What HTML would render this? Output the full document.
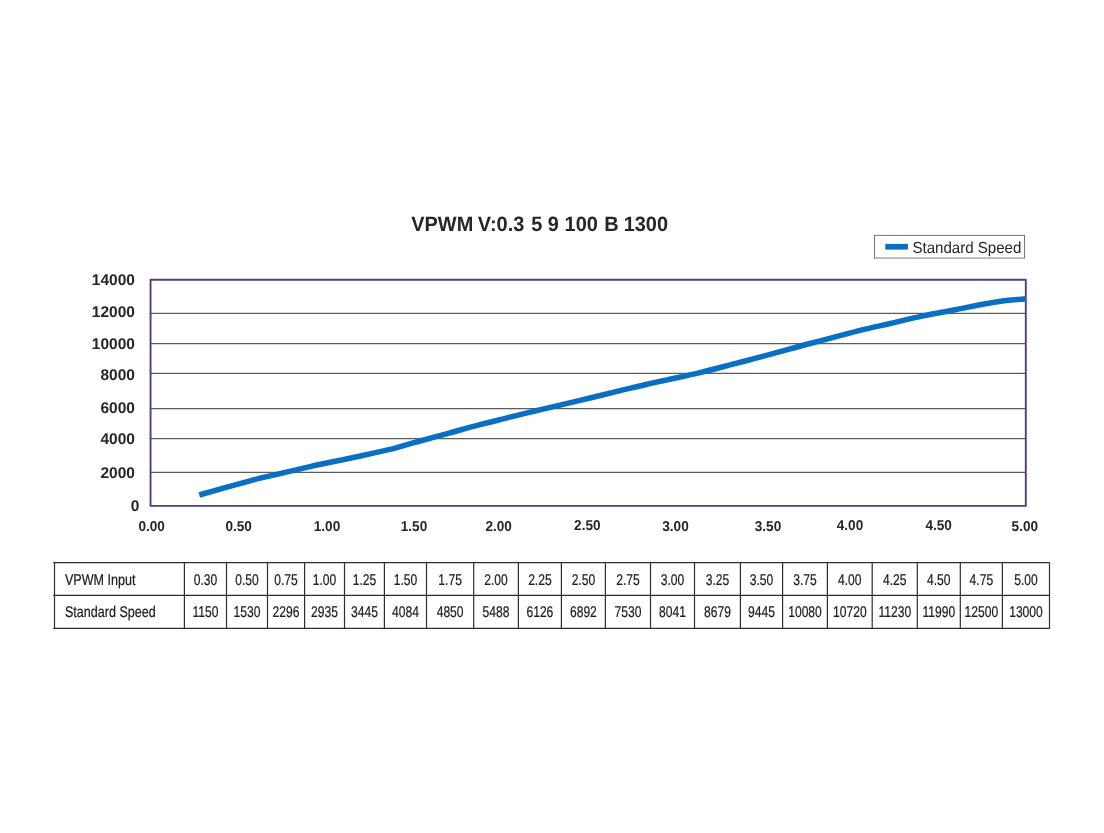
<!DOCTYPE html>
<html lang="en">
<head>
<meta charset="utf-8">
<title>VPWM V:0.3 5 9 100 B 1300</title>
<style>
html,body{margin:0;padding:0;background:#fff;}
body{width:1104px;height:833px;overflow:hidden;}
svg{display:block;}
text{font-family:"Liberation Sans",Arial,Helvetica,sans-serif;text-rendering:geometricPrecision;}
.b{font-weight:bold;}
</style>
</head>
<body>
<svg width="1104" height="833" viewBox="0 0 1104 833">
<rect x="0" y="0" width="1104" height="833" fill="#ffffff"/>
<text class="b" transform="translate(539.65,230.9) scale(0.958,1)" font-size="20.8" text-anchor="middle" fill="#262626">VPWM<tspan dx="-1.05"> V:0.3</tspan><tspan dx="1.35"> 5</tspan><tspan dx="0.1"> 9</tspan><tspan dx="0.1"> 100</tspan><tspan dx="0.8"> B</tspan><tspan dx="-0.4"> 1300</tspan></text>
<rect x="874.5" y="235.4" width="150" height="22.7" fill="#fff" stroke="#757575" stroke-width="1"/>
<line x1="874.5" y1="258.5" x2="1025" y2="258.5" stroke="#b5b5b5" stroke-width="1"/>
<rect x="885.3" y="243.9" width="22.6" height="5.7" fill="#0a6ec3"/>
<text transform="translate(912.4,252.7) scale(0.942,1)" font-size="16" fill="#262626">Standard Speed</text>
<line x1="150.55" y1="313.3" x2="1025.8" y2="313.3" stroke="#5c5c5c" stroke-width="1.3"/>
<line x1="150.55" y1="343.7" x2="1025.8" y2="343.7" stroke="#5c5c5c" stroke-width="1.3"/>
<line x1="150.55" y1="373.4" x2="1025.8" y2="373.4" stroke="#5c5c5c" stroke-width="1.3"/>
<line x1="150.55" y1="408.7" x2="1025.8" y2="408.7" stroke="#5c5c5c" stroke-width="1.3"/>
<line x1="150.55" y1="438.6" x2="1025.8" y2="438.6" stroke="#5c5c5c" stroke-width="1.3"/>
<line x1="150.55" y1="472.4" x2="1025.8" y2="472.4" stroke="#5c5c5c" stroke-width="1.3"/>
<rect x="150.55" y="279.7" width="875.25" height="226.2" fill="none" stroke="#573c75" stroke-width="1.9" stroke-linejoin="round"/>
<path d="M199.3,495.0 C207.8,492.6 236.6,484.4 250,480.8 C263.4,477.2 270.0,476.1 280,473.7 C290.0,471.3 299.2,469.0 310,466.6 C320.8,464.2 335.0,461.3 345,459.2 C355.0,457.1 361.8,455.7 370,453.9 C378.2,452.1 390.2,449.3 394.3,448.4 L394.3,448.4 C398.6,447.2 410.7,443.6 420,441.0 C429.3,438.4 440.0,435.5 450,432.8 C460.0,430.1 470.0,427.2 480,424.6 C490.0,422.0 500.8,419.5 510,417.2 C519.2,414.9 526.7,413.0 535,411.0 C543.3,409.0 550.8,407.3 560,405.1 C569.2,402.9 580.0,400.4 590,398.0 C600.0,395.6 610.8,392.9 620,390.7 C629.2,388.5 636.7,386.6 645,384.7 C653.3,382.8 660.8,381.2 670,379.2 C679.2,377.2 690.0,375.0 700,372.6 C710.0,370.2 720.8,367.3 730,364.9 C739.2,362.5 746.7,360.6 755,358.4 C763.3,356.2 770.8,354.1 780,351.6 C789.2,349.1 800.0,346.1 810,343.5 C820.0,340.9 830.8,338.1 840,335.7 C849.2,333.3 856.7,331.2 865,329.2 C873.3,327.2 880.8,325.6 890,323.5 C899.2,321.4 910.0,318.7 920,316.6 C930.0,314.5 940.0,312.7 950,310.7 C960.0,308.7 973.3,306.1 980,304.8 C986.7,303.5 985.6,303.7 990,303.0 C994.4,302.3 1000.3,301.2 1006.3,300.5 C1012.3,299.8 1022.7,299.1 1026.0,298.8" fill="none" stroke="#0a6ec3" stroke-width="5.5" stroke-linejoin="round"/>
<text class="b" transform="translate(134.9,284.5) scale(1.0,1)" font-size="15.5" text-anchor="end" fill="#262626">14000</text>
<text class="b" transform="translate(134.9,317.0) scale(1.0,1)" font-size="15.5" text-anchor="end" fill="#262626">12000</text>
<text class="b" transform="translate(134.9,348.5) scale(1.0,1)" font-size="15.5" text-anchor="end" fill="#262626">10000</text>
<text class="b" transform="translate(134.9,380.2) scale(1.0,1)" font-size="15.5" text-anchor="end" fill="#262626">8000</text>
<text class="b" transform="translate(134.9,413.4) scale(1.0,1)" font-size="15.5" text-anchor="end" fill="#262626">6000</text>
<text class="b" transform="translate(134.9,443.7) scale(1.0,1)" font-size="15.5" text-anchor="end" fill="#262626">4000</text>
<text class="b" transform="translate(134.9,478.1) scale(1.0,1)" font-size="15.5" text-anchor="end" fill="#262626">2000</text>
<text class="b" transform="translate(139.4,511.2) scale(1.0,1)" font-size="15.5" text-anchor="end" fill="#262626">0</text>
<text class="b" transform="translate(151.7,531.1) scale(0.95,1)" font-size="14.3" text-anchor="middle" fill="#262626">0.00</text>
<text class="b" transform="translate(238.7,531.1) scale(0.95,1)" font-size="14.3" text-anchor="middle" fill="#262626">0.50</text>
<text class="b" transform="translate(327.0,531.1) scale(0.95,1)" font-size="14.3" text-anchor="middle" fill="#262626">1.00</text>
<text class="b" transform="translate(414.0,531.1) scale(0.95,1)" font-size="14.3" text-anchor="middle" fill="#262626">1.50</text>
<text class="b" transform="translate(498.6,531.1) scale(0.95,1)" font-size="14.3" text-anchor="middle" fill="#262626">2.00</text>
<text class="b" transform="translate(587.3,530.1) scale(0.95,1)" font-size="14.3" text-anchor="middle" fill="#262626">2.50</text>
<text class="b" transform="translate(675.5,531.1) scale(0.95,1)" font-size="14.3" text-anchor="middle" fill="#262626">3.00</text>
<text class="b" transform="translate(768.0,531.1) scale(0.95,1)" font-size="14.3" text-anchor="middle" fill="#262626">3.50</text>
<text class="b" transform="translate(850.0,529.8) scale(0.95,1)" font-size="14.3" text-anchor="middle" fill="#262626">4.00</text>
<text class="b" transform="translate(938.7,529.8) scale(0.95,1)" font-size="14.3" text-anchor="middle" fill="#262626">4.50</text>
<text class="b" transform="translate(1024.8,530.6) scale(0.95,1)" font-size="14.3" text-anchor="middle" fill="#262626">5.00</text>
<line x1="54.5" y1="562.6" x2="54.5" y2="628.4" stroke="#2e2e2e" stroke-width="1.2"/>
<line x1="184.4" y1="562.6" x2="184.4" y2="628.4" stroke="#2e2e2e" stroke-width="1.2"/>
<line x1="226.5" y1="562.6" x2="226.5" y2="628.4" stroke="#2e2e2e" stroke-width="1.2"/>
<line x1="267.5" y1="562.6" x2="267.5" y2="628.4" stroke="#2e2e2e" stroke-width="1.2"/>
<line x1="304.6" y1="562.6" x2="304.6" y2="628.4" stroke="#2e2e2e" stroke-width="1.2"/>
<line x1="344.5" y1="562.6" x2="344.5" y2="628.4" stroke="#2e2e2e" stroke-width="1.2"/>
<line x1="384.4" y1="562.6" x2="384.4" y2="628.4" stroke="#2e2e2e" stroke-width="1.2"/>
<line x1="426.5" y1="562.6" x2="426.5" y2="628.4" stroke="#2e2e2e" stroke-width="1.2"/>
<line x1="473.7" y1="562.6" x2="473.7" y2="628.4" stroke="#2e2e2e" stroke-width="1.2"/>
<line x1="518.4" y1="562.6" x2="518.4" y2="628.4" stroke="#2e2e2e" stroke-width="1.2"/>
<line x1="561.4" y1="562.6" x2="561.4" y2="628.4" stroke="#2e2e2e" stroke-width="1.2"/>
<line x1="605.4" y1="562.6" x2="605.4" y2="628.4" stroke="#2e2e2e" stroke-width="1.2"/>
<line x1="650.5" y1="562.6" x2="650.5" y2="628.4" stroke="#2e2e2e" stroke-width="1.2"/>
<line x1="694.5" y1="562.6" x2="694.5" y2="628.4" stroke="#2e2e2e" stroke-width="1.2"/>
<line x1="740.4" y1="562.6" x2="740.4" y2="628.4" stroke="#2e2e2e" stroke-width="1.2"/>
<line x1="782.6" y1="562.6" x2="782.6" y2="628.4" stroke="#2e2e2e" stroke-width="1.2"/>
<line x1="827.4" y1="562.6" x2="827.4" y2="628.4" stroke="#2e2e2e" stroke-width="1.2"/>
<line x1="872.2" y1="562.6" x2="872.2" y2="628.4" stroke="#2e2e2e" stroke-width="1.2"/>
<line x1="917.3" y1="562.6" x2="917.3" y2="628.4" stroke="#2e2e2e" stroke-width="1.2"/>
<line x1="960.3" y1="562.6" x2="960.3" y2="628.4" stroke="#2e2e2e" stroke-width="1.2"/>
<line x1="1002.4" y1="562.6" x2="1002.4" y2="628.4" stroke="#2e2e2e" stroke-width="1.2"/>
<line x1="1049.5" y1="562.6" x2="1049.5" y2="628.4" stroke="#2e2e2e" stroke-width="1.2"/>
<line x1="53.3" y1="562.6" x2="1049.5" y2="562.6" stroke="#2e2e2e" stroke-width="1.2"/>
<line x1="53.3" y1="595.3" x2="1049.5" y2="595.3" stroke="#2e2e2e" stroke-width="1.2"/>
<line x1="53.3" y1="628.4" x2="1049.5" y2="628.4" stroke="#2e2e2e" stroke-width="1.2"/>
<text transform="translate(65,584.8) scale(0.809,1)" font-size="15.5" text-anchor="start" fill="#202020" stroke="#202020" stroke-width="0.22">VPWM Input</text>
<text transform="translate(65,616.6) scale(0.809,1)" font-size="15.5" text-anchor="start" fill="#202020" stroke="#202020" stroke-width="0.22">Standard Speed</text>
<text transform="translate(205.45,584.8) scale(0.779,1)" font-size="15.5" text-anchor="middle" fill="#202020" stroke="#202020" stroke-width="0.22">0.30</text>
<text transform="translate(205.45,616.6) scale(0.779,1)" font-size="15.5" text-anchor="middle" fill="#202020" stroke="#202020" stroke-width="0.22">1150</text>
<text transform="translate(247.0,584.8) scale(0.779,1)" font-size="15.5" text-anchor="middle" fill="#202020" stroke="#202020" stroke-width="0.22">0.50</text>
<text transform="translate(247.0,616.6) scale(0.779,1)" font-size="15.5" text-anchor="middle" fill="#202020" stroke="#202020" stroke-width="0.22">1530</text>
<text transform="translate(286.05,584.8) scale(0.779,1)" font-size="15.5" text-anchor="middle" fill="#202020" stroke="#202020" stroke-width="0.22">0.75</text>
<text transform="translate(286.05,616.6) scale(0.779,1)" font-size="15.5" text-anchor="middle" fill="#202020" stroke="#202020" stroke-width="0.22">2296</text>
<text transform="translate(324.55,584.8) scale(0.779,1)" font-size="15.5" text-anchor="middle" fill="#202020" stroke="#202020" stroke-width="0.22">1.00</text>
<text transform="translate(324.55,616.6) scale(0.779,1)" font-size="15.5" text-anchor="middle" fill="#202020" stroke="#202020" stroke-width="0.22">2935</text>
<text transform="translate(364.45,584.8) scale(0.779,1)" font-size="15.5" text-anchor="middle" fill="#202020" stroke="#202020" stroke-width="0.22">1.25</text>
<text transform="translate(364.45,616.6) scale(0.779,1)" font-size="15.5" text-anchor="middle" fill="#202020" stroke="#202020" stroke-width="0.22">3445</text>
<text transform="translate(405.45,584.8) scale(0.779,1)" font-size="15.5" text-anchor="middle" fill="#202020" stroke="#202020" stroke-width="0.22">1.50</text>
<text transform="translate(405.45,616.6) scale(0.779,1)" font-size="15.5" text-anchor="middle" fill="#202020" stroke="#202020" stroke-width="0.22">4084</text>
<text transform="translate(450.1,584.8) scale(0.779,1)" font-size="15.5" text-anchor="middle" fill="#202020" stroke="#202020" stroke-width="0.22">1.75</text>
<text transform="translate(450.1,616.6) scale(0.779,1)" font-size="15.5" text-anchor="middle" fill="#202020" stroke="#202020" stroke-width="0.22">4850</text>
<text transform="translate(496.04999999999995,584.8) scale(0.779,1)" font-size="15.5" text-anchor="middle" fill="#202020" stroke="#202020" stroke-width="0.22">2.00</text>
<text transform="translate(496.04999999999995,616.6) scale(0.779,1)" font-size="15.5" text-anchor="middle" fill="#202020" stroke="#202020" stroke-width="0.22">5488</text>
<text transform="translate(539.9,584.8) scale(0.779,1)" font-size="15.5" text-anchor="middle" fill="#202020" stroke="#202020" stroke-width="0.22">2.25</text>
<text transform="translate(539.9,616.6) scale(0.779,1)" font-size="15.5" text-anchor="middle" fill="#202020" stroke="#202020" stroke-width="0.22">6126</text>
<text transform="translate(583.4,584.8) scale(0.779,1)" font-size="15.5" text-anchor="middle" fill="#202020" stroke="#202020" stroke-width="0.22">2.50</text>
<text transform="translate(583.4,616.6) scale(0.779,1)" font-size="15.5" text-anchor="middle" fill="#202020" stroke="#202020" stroke-width="0.22">6892</text>
<text transform="translate(627.95,584.8) scale(0.779,1)" font-size="15.5" text-anchor="middle" fill="#202020" stroke="#202020" stroke-width="0.22">2.75</text>
<text transform="translate(627.95,616.6) scale(0.779,1)" font-size="15.5" text-anchor="middle" fill="#202020" stroke="#202020" stroke-width="0.22">7530</text>
<text transform="translate(672.5,584.8) scale(0.779,1)" font-size="15.5" text-anchor="middle" fill="#202020" stroke="#202020" stroke-width="0.22">3.00</text>
<text transform="translate(672.5,616.6) scale(0.779,1)" font-size="15.5" text-anchor="middle" fill="#202020" stroke="#202020" stroke-width="0.22">8041</text>
<text transform="translate(717.45,584.8) scale(0.779,1)" font-size="15.5" text-anchor="middle" fill="#202020" stroke="#202020" stroke-width="0.22">3.25</text>
<text transform="translate(717.45,616.6) scale(0.779,1)" font-size="15.5" text-anchor="middle" fill="#202020" stroke="#202020" stroke-width="0.22">8679</text>
<text transform="translate(761.5,584.8) scale(0.779,1)" font-size="15.5" text-anchor="middle" fill="#202020" stroke="#202020" stroke-width="0.22">3.50</text>
<text transform="translate(761.5,616.6) scale(0.779,1)" font-size="15.5" text-anchor="middle" fill="#202020" stroke="#202020" stroke-width="0.22">9445</text>
<text transform="translate(805.0,584.8) scale(0.779,1)" font-size="15.5" text-anchor="middle" fill="#202020" stroke="#202020" stroke-width="0.22">3.75</text>
<text transform="translate(805.0,616.6) scale(0.779,1)" font-size="15.5" text-anchor="middle" fill="#202020" stroke="#202020" stroke-width="0.22">10080</text>
<text transform="translate(849.8,584.8) scale(0.779,1)" font-size="15.5" text-anchor="middle" fill="#202020" stroke="#202020" stroke-width="0.22">4.00</text>
<text transform="translate(849.8,616.6) scale(0.779,1)" font-size="15.5" text-anchor="middle" fill="#202020" stroke="#202020" stroke-width="0.22">10720</text>
<text transform="translate(894.75,584.8) scale(0.779,1)" font-size="15.5" text-anchor="middle" fill="#202020" stroke="#202020" stroke-width="0.22">4.25</text>
<text transform="translate(894.75,616.6) scale(0.779,1)" font-size="15.5" text-anchor="middle" fill="#202020" stroke="#202020" stroke-width="0.22">11230</text>
<text transform="translate(938.8,584.8) scale(0.779,1)" font-size="15.5" text-anchor="middle" fill="#202020" stroke="#202020" stroke-width="0.22">4.50</text>
<text transform="translate(938.8,616.6) scale(0.779,1)" font-size="15.5" text-anchor="middle" fill="#202020" stroke="#202020" stroke-width="0.22">11990</text>
<text transform="translate(981.3499999999999,584.8) scale(0.779,1)" font-size="15.5" text-anchor="middle" fill="#202020" stroke="#202020" stroke-width="0.22">4.75</text>
<text transform="translate(981.3499999999999,616.6) scale(0.779,1)" font-size="15.5" text-anchor="middle" fill="#202020" stroke="#202020" stroke-width="0.22">12500</text>
<text transform="translate(1025.95,584.8) scale(0.779,1)" font-size="15.5" text-anchor="middle" fill="#202020" stroke="#202020" stroke-width="0.22">5.00</text>
<text transform="translate(1025.95,616.6) scale(0.779,1)" font-size="15.5" text-anchor="middle" fill="#202020" stroke="#202020" stroke-width="0.22">13000</text>
</svg>
</body>
</html>
